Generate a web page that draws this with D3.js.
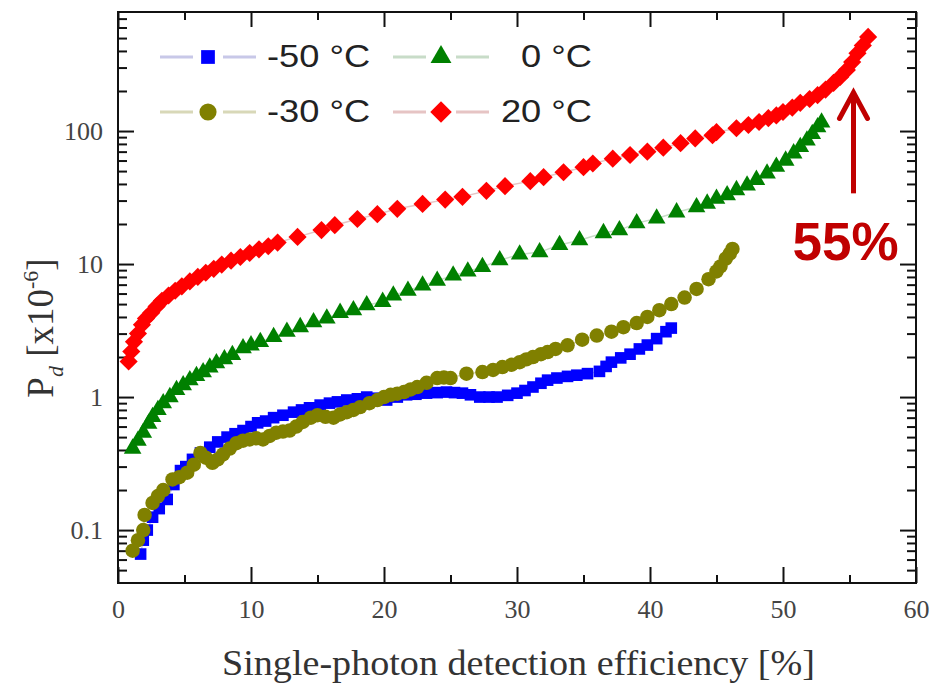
<!DOCTYPE html>
<html lang="en">
<head>
  <meta charset="UTF-8">
  <title>Dark count vs SPDE</title>
  <style>
    body { margin: 0; background: #fff; }
    .tick text { font-family: "Liberation Serif", serif; font-size: 26px; fill: #444; }
  </style>
</head>
<body>
  <svg width=941 height=684 id="viz"></svg>

  <script src="https://cdn.jsdelivr.net/npm/d3@7/dist/d3.min.js"></script>
  <script>
/* global d3 */

// series names
let seriesNames = ["-50 °C", "-30 °C", "0 °C", "20 °C"];

// efficiency [%] , Pd [x10^-6]
let minus50 = [
  [1.7, 0.066], [1.9, 0.084], [2.2, 0.10], [2.6, 0.125], [3.1, 0.145], [3.7, 0.17], [4.2, 0.22],
  [4.7, 0.28], [5.1, 0.30], [5.6, 0.34], [6.2, 0.38], [6.9, 0.42], [7.5, 0.46], [8.2, 0.50],
  [8.8, 0.53], [9.4, 0.56], [10.0, 0.60], [10.5, 0.64], [11.1, 0.66], [11.7, 0.70], [12.4, 0.73],
  [13.2, 0.77], [13.8, 0.80], [14.4, 0.83], [15.2, 0.87], [15.9, 0.90], [16.5, 0.92], [17.2, 0.95],
  [18.0, 0.97], [18.7, 1.0], [19.5, 0.98], [20.2, 0.95], [21.0, 1.0], [21.7, 1.04], [22.4, 1.05],
  [23.2, 1.07], [24.0, 1.08], [24.7, 1.09], [25.3, 1.08], [25.9, 1.07], [26.5, 1.04], [27.2, 1.0],
  [27.9, 1.0], [28.5, 1.0], [29.3, 1.03], [30.0, 1.07], [30.6, 1.12], [31.2, 1.19], [31.8, 1.27],
  [32.3, 1.34], [33.0, 1.39], [33.8, 1.43], [34.5, 1.46], [35.3, 1.50], [36.2, 1.56], [36.7, 1.70],
  [37.1, 1.83], [37.8, 1.97], [38.5, 2.1], [39.2, 2.3], [39.8, 2.46], [40.5, 2.75], [41.2, 3.1],
  [41.6, 3.3]
];

let minus30 = [
  [1.1, 0.07], [1.5, 0.084], [1.9, 0.10], [2.0, 0.13], [2.6, 0.16], [3.0, 0.18], [3.4, 0.20],
  [4.1, 0.24], [4.6, 0.25], [5.2, 0.27], [5.7, 0.31], [6.2, 0.38], [6.6, 0.35], [7.1, 0.32],
  [7.5, 0.34], [7.9, 0.37], [8.4, 0.41], [8.9, 0.45], [9.4, 0.47], [9.9, 0.48], [10.4, 0.49],
  [10.9, 0.48], [11.4, 0.51], [11.9, 0.54], [12.4, 0.55], [12.9, 0.56], [13.4, 0.60], [13.9, 0.65],
  [14.5, 0.70], [15.0, 0.73], [15.6, 0.71], [16.2, 0.70], [16.7, 0.74], [17.2, 0.77], [17.7, 0.80],
  [18.2, 0.84], [18.9, 0.90], [19.5, 0.95], [20.0, 1.0], [20.5, 1.04], [21.0, 1.06], [21.5, 1.09],
  [22.0, 1.14], [22.5, 1.19], [23.2, 1.28], [24.0, 1.39], [24.5, 1.40], [25.0, 1.39], [26.2, 1.50],
  [27.4, 1.54], [28.2, 1.60], [28.9, 1.68], [29.6, 1.75], [30.2, 1.83], [30.7, 1.92], [31.2, 2.0],
  [31.8, 2.1], [32.3, 2.18], [32.9, 2.3], [33.8, 2.45], [34.9, 2.7], [36.0, 2.9], [37.1, 3.1],
  [38.0, 3.35], [39.0, 3.6], [39.8, 4.0], [40.7, 4.5], [41.6, 5.0], [42.6, 5.6], [43.5, 6.5],
  [44.4, 7.7], [45.0, 8.8], [45.3, 9.6], [45.7, 11], [46.0, 12], [46.2, 13]
];

let zero = [
  [1.1, 0.41], [1.5, 0.47], [1.9, 0.54], [2.3, 0.63], [2.6, 0.71], [3.0, 0.80], [3.4, 0.90],
  [3.9, 1.0], [4.4, 1.13], [4.9, 1.23], [5.4, 1.34], [5.9, 1.44], [6.4, 1.54], [6.9, 1.67],
  [7.4, 1.8], [8.0, 1.93], [8.6, 2.07], [9.4, 2.33], [10.0, 2.45], [10.7, 2.6], [11.7, 2.83],
  [12.7, 3.1], [13.7, 3.36], [14.7, 3.66], [15.7, 3.9], [16.7, 4.3], [17.7, 4.5], [18.7, 4.9],
  [19.9, 5.2], [20.7, 5.8], [21.8, 6.3], [22.9, 6.9], [24.0, 7.5], [25.2, 8.2], [26.3, 8.8],
  [27.4, 9.5], [28.7, 10.7], [30.2, 11.8], [31.7, 12.3], [33.2, 13.9], [34.7, 15.1], [36.5, 17.1],
  [37.7, 18], [39.0, 20.3], [40.5, 22], [42.0, 24.5], [43.5, 26.8], [44.3, 28.5], [45.0, 31],
  [45.8, 33], [46.5, 36], [47.3, 39], [48.0, 43], [48.8, 48], [49.5, 54], [50.2, 60], [50.8, 68],
  [51.3, 76], [51.8, 85], [52.2, 95], [52.6, 107], [52.9, 116]
];

let plus20 = [
  [0.8, 1.85], [1.0, 2.2], [1.2, 2.6], [1.5, 3.0], [1.8, 3.5], [2.1, 3.9], [2.5, 4.3], [2.9, 4.8],
  [3.3, 5.3], [3.8, 5.8], [4.3, 6.3], [4.8, 6.8], [5.4, 7.4], [6.0, 8.0], [6.6, 8.6], [7.2, 9.2],
  [7.8, 9.9], [8.5, 10.6], [9.2, 11.3], [9.9, 12.1], [10.6, 12.9], [11.3, 13.6], [12.0, 14.5],
  [13.5, 16.0], [15.3, 18.0], [16.3, 19.6], [18.0, 21.8], [19.5, 23.7], [21.0, 26.0], [22.9, 28.3],
  [24.6, 30.5], [25.9, 32], [27.7, 35.5], [29.1, 38.5], [31.0, 42], [32.0, 45], [33.5, 49],
  [35.0, 53.5], [35.7, 57], [37.2, 62], [38.5, 66], [39.8, 70], [41.0, 75], [42.3, 81], [43.4, 88],
  [44.7, 93], [45.0, 98], [46.5, 105], [47.4, 111], [48.2, 117], [48.9, 125], [49.5, 131],
  [50.0, 139], [50.7, 150], [51.3, 163], [52.0, 174], [52.6, 186], [53.2, 205], [53.8, 230],
  [54.3, 255], [54.8, 288], [55.2, 330], [55.6, 385], [56.0, 440], [56.4, 510]
];

let xTicks = [0, 10, 20, 30, 40, 50, 60];
let xMinor = [5, 15, 25, 35, 45, 55];
let yTicks = [0.1, 1, 10, 100];
let yTickLabels = ["0.1", "1", "10", "100"];

let svg = d3.select("#viz"),
  margin = {top: 12, right: 25, bottom: 101, left: 118},
  width = +svg.attr("width") - margin.left - margin.right,
  height = +svg.attr("height") - margin.top - margin.bottom,
  g = svg.append("g").attr("transform", "translate(" + margin.left + "," + margin.top + ")");

let x = d3.scaleLinear().domain([0, 60]).range([0, width]);
let y = d3.scaleLog().domain([0.04, 785]).range([height, 0]);

// log minor ticks
let yMinor = [];
[0.01, 0.1, 1, 10, 100].forEach(d => {
  for (let k = 2; k <= 9; k++) {
    let v = d * k;
    if (v > y.domain()[0] && v < y.domain()[1]) yMinor.push(v);
  }
});

function axisStyle(sel) {
  sel.select(".domain").remove();
  sel.selectAll(".tick line").attr("stroke", "#111").attr("stroke-width", 2);
}

// minor ticks
g.append("g").attr("transform", "translate(0," + height + ")")
  .call(d3.axisBottom(x).tickValues(xMinor).tickSize(-8).tickFormat(""))
  .call(axisStyle);
g.append("g")
  .call(d3.axisTop(x).tickValues(xMinor).tickSize(-8).tickFormat(""))
  .call(axisStyle);
g.append("g")
  .call(d3.axisLeft(y).tickValues(yMinor).tickSize(-9).tickFormat(""))
  .call(axisStyle);
g.append("g").attr("transform", "translate(" + width + ",0)")
  .call(d3.axisRight(y).tickValues(yMinor).tickSize(-9).tickFormat(""))
  .call(axisStyle);

// major ticks
g.append("g").attr("transform", "translate(0," + height + ")")
  .call(d3.axisBottom(x).tickValues(xTicks).tickSize(-16).tickPadding(17))
  .call(axisStyle);
g.append("g")
  .call(d3.axisTop(x).tickValues(xTicks).tickSize(-15).tickFormat(""))
  .call(axisStyle);
g.append("g")
  .call(d3.axisLeft(y).tickValues(yTicks).tickSize(-16).tickPadding(15)
    .tickFormat((d, i) => yTickLabels[i]))
  .call(axisStyle);
g.append("g").attr("transform", "translate(" + width + ",0)")
  .call(d3.axisRight(y).tickValues(yTicks).tickSize(-16).tickFormat(""))
  .call(axisStyle);

g.append("rect")
  .attr("width", width).attr("height", height)
  .attr("fill", "none").attr("stroke", "#111").attr("stroke-width", 2);

// series
let series = [
  {name: seriesNames[0], data: minus50, color: "#0000ff", line: "#c8c8e8", symbol: d3.symbolSquare, size: 135, rot: 0},
  {name: seriesNames[1], data: minus30, color: "#808000", line: "#d8d8b8", symbol: d3.symbolCircle, size: 165, rot: 0},
  {name: seriesNames[2], data: zero, color: "#008000", line: "#c8dcc8", symbol: d3.symbolTriangle, size: 135, rot: 0},
  {name: seriesNames[3], data: plus20, color: "#ff0000", line: "#e6c4c4", symbol: d3.symbolSquare, size: 165, rot: 45}
];

let line = d3.line().x(d => x(d[0])).y(d => y(d[1]));
let plot = g.append("g");

series.forEach(s => {
  plot.append("path")
    .attr("d", line(s.data))
    .attr("fill", "none")
    .attr("stroke", s.line)
    .attr("stroke-width", 1.5);
  plot.selectAll(null)
    .data(s.data)
    .enter()
    .append("path")
    .attr("transform", d => "translate(" + x(d[0]) + "," + y(d[1]) + ") rotate(" + s.rot + ")")
    .attr("d", d3.symbol().type(s.symbol).size(s.size))
    .attr("fill", s.color);
});

// legend (text is a bit wider than plain Arial in the original, hence the x-stretch)
let legendRows = [
  {s: series[0], lx: 160, ly: 57, tx: 267, anchor: "start"},
  {s: series[2], lx: 393, ly: 57, tx: 592, anchor: "end"},
  {s: series[1], lx: 160, ly: 112, tx: 267, anchor: "start"},
  {s: series[3], lx: 393, ly: 112, tx: 592, anchor: "end"}
];
let legend = svg.append("g");
legendRows.forEach(r => {
  legend.append("line").attr("x1", r.lx).attr("x2", r.lx + 33).attr("y1", r.ly).attr("y2", r.ly)
    .attr("stroke", r.s.line).attr("stroke-width", 3);
  legend.append("line").attr("x1", r.lx + 63).attr("x2", r.lx + 96).attr("y1", r.ly).attr("y2", r.ly)
    .attr("stroke", r.s.line).attr("stroke-width", 3);
  legend.append("path")
    .attr("transform", "translate(" + (r.lx + 48) + "," + r.ly + ") rotate(" + r.s.rot + ")")
    .attr("d", d3.symbol().type(r.s.symbol).size(r.s.size * 1.4))
    .attr("fill", r.s.color);
  legend.append("text")
    .attr("transform", "translate(" + r.tx + "," + (r.ly + 10) + ") scale(1.17,1)")
    .attr("text-anchor", r.anchor)
    .attr("font-family", "Liberation Sans, Arial, sans-serif")
    .attr("font-size", 31)
    .attr("fill", "#222")
    .text(r.s.name);
});

// axis titles
svg.append("text")
  .attr("x", 222).attr("y", 675)
  .attr("textLength", 593)
  .attr("lengthAdjust", "spacingAndGlyphs")
  .attr("font-family", "Liberation Serif, serif")
  .attr("font-size", 35)
  .attr("fill", "#333")
  .text("Single-photon detection efficiency [%]");

let yt = svg.append("text")
  .attr("transform", "translate(53,328) rotate(-90)")
  .attr("text-anchor", "middle")
  .attr("font-family", "Liberation Serif, serif")
  .attr("font-size", 37)
  .attr("fill", "#333");
yt.append("tspan").text("P");
yt.append("tspan").attr("font-size", 22).attr("font-style", "italic").attr("dy", 10).text("d");
yt.append("tspan").attr("dy", -10).text(" [x10");
yt.append("tspan").attr("font-size", 22).attr("dy", -15).text("-6");
yt.append("tspan").attr("dy", 15).text("]");

// annotation
let note = {x: 55.3, yFrom: 34, yTo: 195, label: "55%", labelX: 54.7, labelY: 10.7};
let red = "#c00000";
g.append("line")
  .attr("x1", x(note.x)).attr("x2", x(note.x))
  .attr("y1", y(note.yFrom)).attr("y2", y(note.yTo) + 3)
  .attr("stroke", red).attr("stroke-width", 5);
g.append("path")
  .attr("d", "M" + (x(note.x) - 14) + "," + (y(note.yTo) + 26) +
    "L" + x(note.x) + "," + y(note.yTo) +
    "L" + (x(note.x) + 14) + "," + (y(note.yTo) + 26))
  .attr("fill", "none").attr("stroke", red).attr("stroke-width", 5)
  .attr("stroke-linejoin", "miter").attr("stroke-linecap", "round");
g.append("text")
  .attr("x", x(note.labelX)).attr("y", y(note.labelY))
  .attr("text-anchor", "middle")
  .attr("font-family", "Liberation Sans, Arial, sans-serif")
  .attr("font-weight", "bold")
  .attr("font-size", 53)
  .attr("fill", red)
  .text(note.label);
  </script>
</body>
</html>
